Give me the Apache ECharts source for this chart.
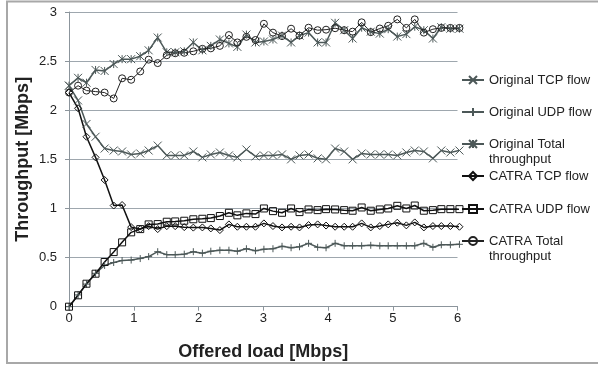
<!DOCTYPE html>
<html>
<head>
<meta charset="utf-8">
<script src="https://cdn.jsdelivr.net/npm/echarts@6.0.0/dist/echarts.min.js"></script>
<style>
  html, body { margin: 0; padding: 0; background: #fff; }
  #chart { width: 598px; height: 367px; }
</style>
</head>
<body>
<div id="chart"></div>
<script>
// offered load [Mbps], one entry per measurement
const offeredLoad = [
  0, 0.14, 0.27, 0.41, 0.55, 0.69, 0.82, 0.96, 1.10, 1.23, 1.37, 1.51, 1.64, 1.78, 1.92,
  2.06, 2.19, 2.33, 2.47, 2.60, 2.74, 2.88, 3.01, 3.15, 3.29, 3.43, 3.56, 3.70, 3.84, 3.97,
  4.11, 4.25, 4.38, 4.52, 4.66, 4.80, 4.93, 5.07, 5.21, 5.34, 5.48, 5.62, 5.75, 5.89, 6.03
];

const originalTcp = [
  2.25, 2.10, 1.86, 1.73, 1.61, 1.59, 1.58, 1.55, 1.56, 1.59, 1.64, 1.54, 1.54, 1.54, 1.58,
  1.52, 1.55, 1.57, 1.54, 1.52, 1.60, 1.53, 1.54, 1.54, 1.55, 1.50, 1.54, 1.55, 1.51, 1.50,
  1.61, 1.58, 1.50, 1.56, 1.55, 1.55, 1.55, 1.54, 1.57, 1.59, 1.58, 1.51, 1.59, 1.57, 1.59
];

const originalUdp = [
  0, 0.12, 0.23, 0.34, 0.42, 0.45, 0.47, 0.475, 0.49, 0.51, 0.56, 0.53, 0.53, 0.535, 0.56,
  0.545, 0.565, 0.575, 0.575, 0.565, 0.59, 0.57, 0.585, 0.59, 0.615, 0.60, 0.61, 0.645, 0.605, 0.60,
  0.645, 0.62, 0.62, 0.62, 0.625, 0.62, 0.62, 0.62, 0.62, 0.62, 0.645, 0.605, 0.63, 0.63, 0.635
];

const originalTotal = [
  2.25, 2.33, 2.28, 2.41, 2.40, 2.47, 2.52, 2.52, 2.55, 2.61, 2.74, 2.59, 2.59, 2.60, 2.69,
  2.61, 2.655, 2.72, 2.68, 2.645, 2.77, 2.69, 2.70, 2.72, 2.76, 2.69, 2.76, 2.79, 2.69, 2.69,
  2.89, 2.815, 2.73, 2.84, 2.80, 2.78, 2.825, 2.75, 2.775, 2.85, 2.815, 2.73, 2.845, 2.83, 2.83
];

const catraTcp = [
  2.18, 2.02, 1.73, 1.52, 1.29, 1.03, 1.035, 0.81, 0.79, 0.82, 0.79, 0.82, 0.82, 0.81, 0.805,
  0.807, 0.797, 0.78, 0.838, 0.814, 0.814, 0.814, 0.848, 0.821, 0.807, 0.814, 0.807, 0.831, 0.838, 0.826,
  0.814, 0.814, 0.814, 0.848, 0.807, 0.821, 0.838, 0.855, 0.828, 0.858, 0.807, 0.821, 0.821, 0.821, 0.814
];

const catraUdp = [
  0, 0.116, 0.234, 0.336, 0.455, 0.556, 0.655, 0.757, 0.79, 0.838, 0.841, 0.865, 0.868, 0.875, 0.89,
  0.895, 0.902, 0.923, 0.956, 0.93, 0.95, 0.943, 1.0, 0.973, 0.956, 1.0, 0.963, 0.99, 0.983, 0.993,
  0.99, 0.983, 0.977, 1.01, 0.977, 0.99, 1.0, 1.027, 1.0, 1.03, 0.977, 0.983, 0.993, 0.993, 0.993
];

const catraTotal = [
  2.18, 2.25, 2.20, 2.19, 2.18, 2.12, 2.325, 2.31, 2.395, 2.515, 2.48, 2.56, 2.58, 2.585, 2.60,
  2.625, 2.63, 2.655, 2.765, 2.69, 2.747, 2.715, 2.88, 2.79, 2.755, 2.83, 2.76, 2.84, 2.815, 2.82,
  2.835, 2.815, 2.80, 2.895, 2.795, 2.832, 2.86, 2.925, 2.838, 2.925, 2.79, 2.825, 2.838, 2.838, 2.838
];

const seriesNames = [
  "Original TCP flow",
  "Original UDP flow",
  "Original Total throughput",
  "CATRA TCP flow",
  "CATRA UDP flow",
  "CATRA Total throughput"
];

// legend text as drawn (two-line entries wrap after the first words)
const legendLabels = [
  "Original TCP flow",
  "Original UDP flow",
  "Original Total\nthroughput",
  "CATRA TCP flow",
  "CATRA UDP flow",
  "CATRA Total\nthroughput"
];

const yTicks = { min: 0, max: 3, step: 0.5 };
const xTicks = { min: 0, max: 6, step: 1 };

// marker shapes similar to the spreadsheet ones
const xMark = "path://M0,0L10,10M10,0L0,10";
const plusMark = "path://M5,0L5,10M0,5L10,5";
const starMark = "path://M5,0L5,10M0,0L10,10M10,0L0,10";

const grayInk = "#4c5858";
const darkInk = "#111111";

function makeSeries(name, values, symbol, size, color, width) {
  return {
    name: name,
    type: "line",
    data: offeredLoad.map((x, i) => [x, values[i]]),
    symbol: symbol,
    symbolSize: size,
    clip: false,
    lineStyle: { color: color, width: width },
    itemStyle: { color: "rgba(0,0,0,0)", borderColor: color, borderWidth: 1 },
    emphasis: { disabled: true }
  };
}

const lineValues = [originalTcp, originalUdp, originalTotal, catraTcp, catraUdp, catraTotal];
const lineSymbols = [xMark, plusMark, starMark, "diamond", "rect", "circle"];
const symbolSizes = [8, 7, 8, 7, 7, 7];
const lineColors = [grayInk, grayInk, grayInk, darkInk, darkInk, "#222222"];
const lineWidths = [1.5, 1.5, 1.5, 1.5, 1.5, 1];

const series = seriesNames.map((n, i) =>
  makeSeries(n, lineValues[i], lineSymbols[i], symbolSizes[i], lineColors[i], lineWidths[i])
);

// one legend box per entry so two-line labels keep the marker on the first line
const legendCenters = [80, 112, 144, 176, 209, 241];
const legends = seriesNames.map((n, i) => {
  const lines = legendLabels[i].split("\n").length;
  return {
    data: [n],
    orient: "vertical",
    left: 461,
    top: lines > 1 ? legendCenters[i] - 22.5 : legendCenters[i] - 7.5,
    padding: 0,
    itemWidth: 22,
    itemHeight: 10,
    selectedMode: false,
    formatter: () => (lines > 1 ? "\n" + legendLabels[i] : legendLabels[i]),
    textStyle: {
      fontFamily: "Liberation Sans",
      fontSize: 13,
      lineHeight: 15,
      color: "#222"
    }
  };
});

const chart = echarts.init(document.getElementById("chart"));

chart.setOption({
  animation: false,
  backgroundColor: "#fff",
  grid: { left: 69, right: 140.5, top: 12, bottom: 60.3 },
  legend: legends,
  graphic: [
    {
      type: "rect",
      shape: { x: 7, y: 1.5, width: 620, height: 361.5 },
      style: { fill: "none", stroke: "#a8a8a8", lineWidth: 2 },
      silent: true
    }
  ],
  xAxis: {
    type: "value",
    min: xTicks.min,
    max: xTicks.max,
    interval: xTicks.step,
    name: "Offered load [Mbps]",
    nameLocation: "middle",
    nameGap: 36,
    nameTextStyle: { fontFamily: "Liberation Sans", fontSize: 18, fontWeight: "bold", color: "#222" },
    axisLine: { lineStyle: { color: "#8c959c", width: 1 } },
    axisTick: { show: true, length: 4, lineStyle: { color: "#8c959c" } },
    axisLabel: { fontFamily: "Liberation Sans", fontSize: 13, color: "#222", margin: 5 },
    splitLine: { show: false }
  },
  yAxis: {
    type: "value",
    min: yTicks.min,
    max: yTicks.max,
    interval: yTicks.step,
    name: "Throughput [Mbps]",
    nameLocation: "middle",
    nameGap: 37,
    nameMoveOverlap: false,
    nameTextStyle: { fontFamily: "Liberation Sans", fontSize: 18, fontWeight: "bold", color: "#222" },
    axisLine: { show: true, lineStyle: { color: "#8c959c", width: 1 } },
    axisTick: { show: true, length: 4, lineStyle: { color: "#8c959c" } },
    axisLabel: { fontFamily: "Liberation Sans", fontSize: 13, color: "#222", margin: 12 },
    splitLine: { show: true, lineStyle: { color: "#9ea7ae", width: 1.2 } }
  },
  series: series
});
</script>
</body>
</html>
